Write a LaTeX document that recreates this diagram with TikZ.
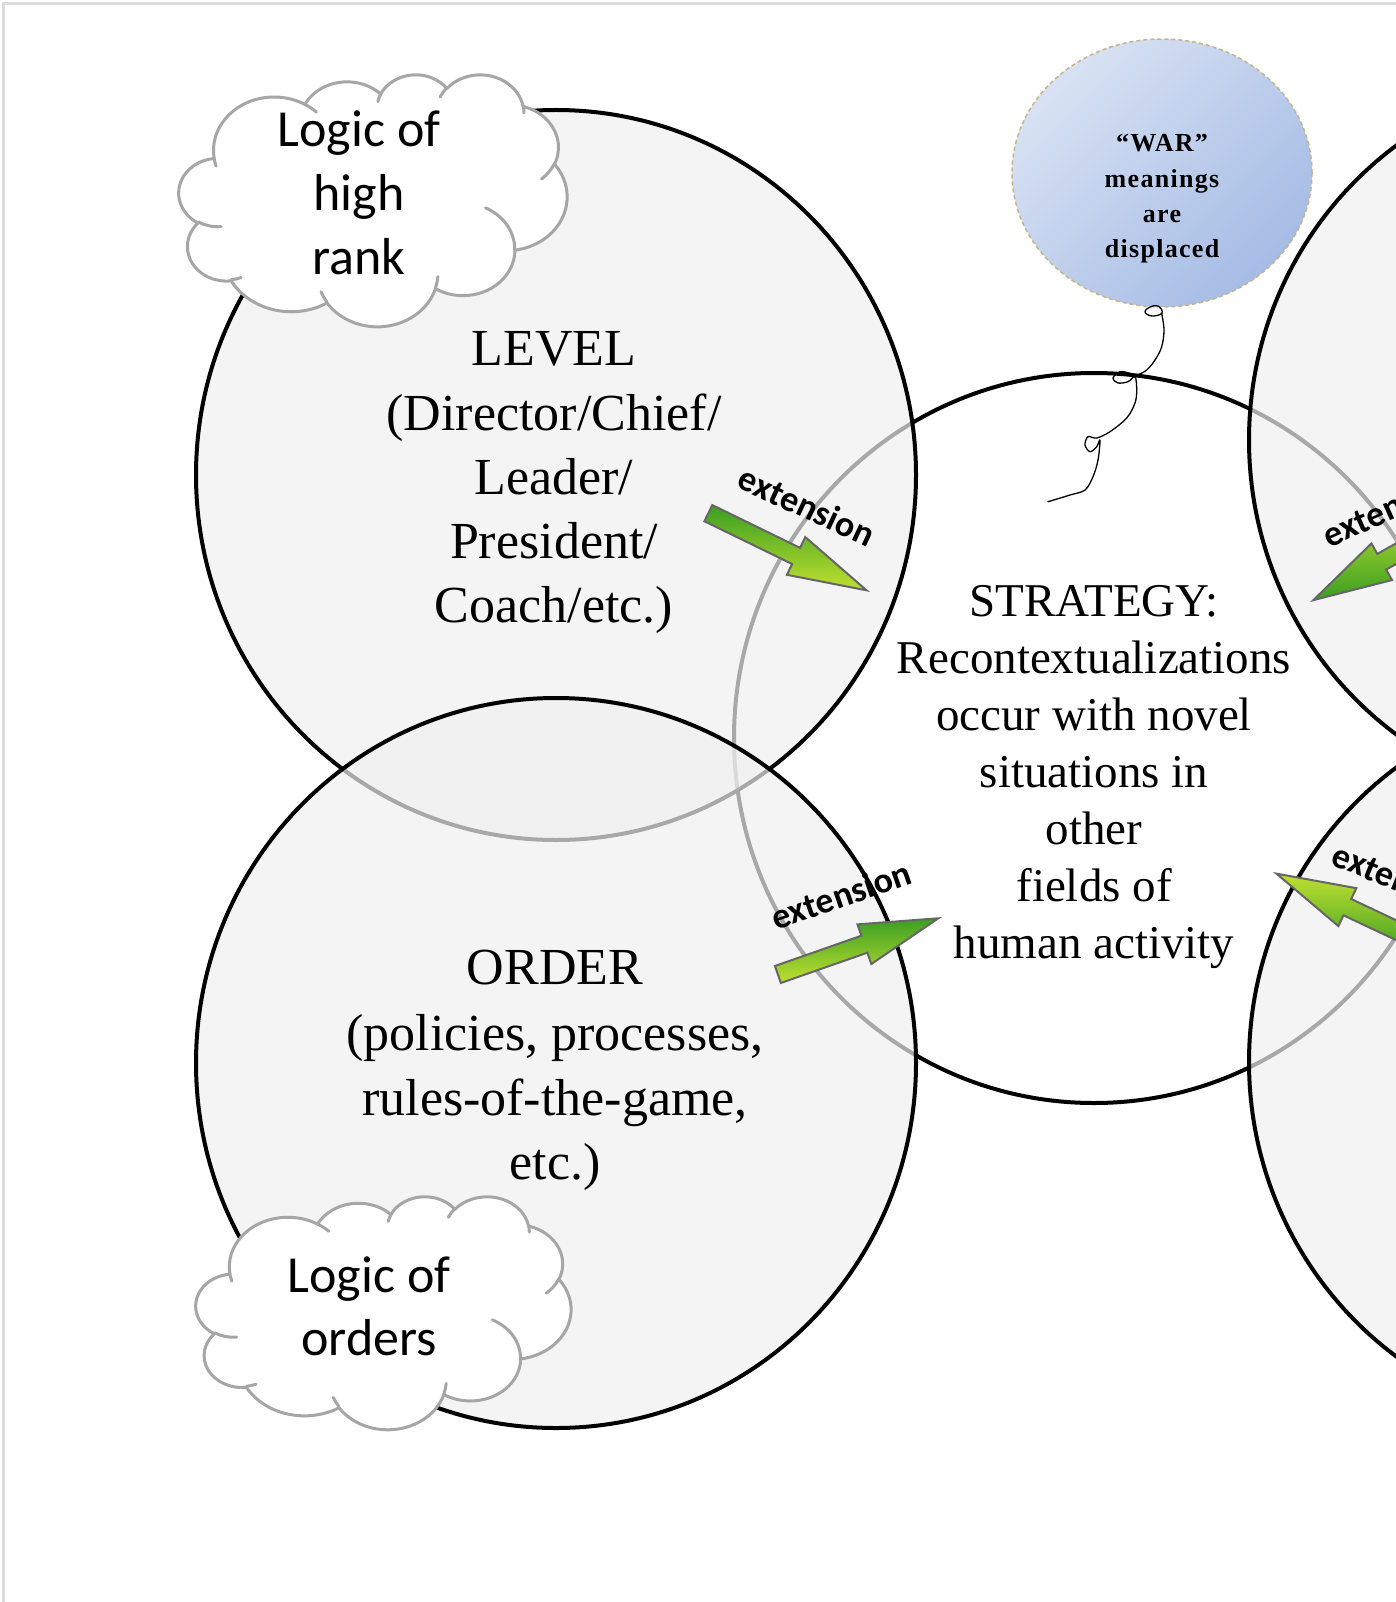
\documentclass[tikz,border=0pt]{standalone}
\usepackage{fontspec}
\setmainfont{Liberation Serif}
\newfontfamily\calib{Carlito}
\newfontfamily\balfont[LetterSpace=5]{Liberation Serif}
\usetikzlibrary{shapes.arrows,shapes.geometric}
\definecolor{cloudgray}{HTML}{A6A6A6}
\definecolor{circfill}{HTML}{F0F0F0}
\definecolor{ballight}{HTML}{D8E2F3}
\definecolor{baldark}{HTML}{A5BCE5}
\definecolor{balborder}{HTML}{C4B48A}
\definecolor{framegray}{HTML}{DCDCDC}
\definecolor{arrowdark}{HTML}{3A9E22}
\definecolor{arrowlight}{HTML}{BFE030}
% --- Office-style cloud outline (path in 0..4320 units) ---
\newcommand\cldsetup[4]{\def\cX{#1}\def\cY{#2}\pgfmathsetmacro\cSx{#3/4320}\pgfmathsetmacro\cSy{#4/4320}}
\newcommand\cldmove[2]{\pgfmathsetmacro\cldPx{\cX+#1*\cSx}\pgfmathsetmacro\cldPy{-(\cY+#2*\cSy)}\pgfpathmoveto{\pgfpoint{\cldPx pt}{\cldPy pt}}}
\newcommand\cldarc[4]{%
  \pgfmathsetmacro\cldA{#3}%
  \pgfmathsetmacro\cldB{#3+#4}%
  \pgfmathsetmacro\cldTa{atan2(#1*sin(\cldA),#2*cos(\cldA))}%
  \pgfmathsetmacro\cldTb{atan2(#1*sin(\cldB),#2*cos(\cldB))}%
  \pgfmathsetmacro\cldD{\cldTb-\cldTa}%
  \pgfmathsetmacro\cldD{(\cldD<0)*360+\cldD}%
  \pgfmathsetmacro\cldS{-1*(\cldTa)}%
  \pgfmathsetmacro\cldF{-1*(\cldTa+\cldD)}%
  \pgfmathsetmacro\cldRx{#1*\cSx}%
  \pgfmathsetmacro\cldRy{#2*\cSy}%
  \pgfpatharc{\cldS}{\cldF}{\cldRx pt and \cldRy pt}%
}
\newcommand\officecloud[4]{%
  \cldsetup{#1}{#2}{#3}{#4}%
  \begin{pgfscope}%
  \pgfsetlinewidth{3pt}\pgfsetstrokecolor{cloudgray}\pgfsetfillcolor{white}\pgfsetroundjoin\pgfsetroundcap
  \cldmove{390.0}{1437.0}%
  \cldarc{675.3}{919.0}{-190.4875}{123.7805}%
  \cldarc{533.3}{726.7}{-144.1024}{89.9452}%
  \cldarc{436.5}{594.5}{-145.8079}{99.7230}%
  \cldarc{485.7}{659.5}{-130.9861}{117.2417}%
  \cldarc{533.3}{727.3}{-78.7089}{109.0269}%
  \cldarc{677.5}{922.0}{-46.2673}{130.2690}%
  \cldarc{578.5}{786.7}{0.6250}{114.0333}%
  \cldarc{675.2}{921.5}{22.4516}{115.1726}%
  \cldarc{772.0}{1054.3}{66.2426}{75.7110}%
  \cldarc{436.0}{591.8}{-274.9421}{146.7356}%
  \cldarc{434.5}{594.5}{-246.8285}{152.5189}%
  \pgfpathclose
  \pgfusepath{fill,stroke}%
  \cldmove{469.3}{2617.7}\cldarc{434.5}{594.5}{86.7420}{26.4295}%
  \cldmove{692.8}{3489.9}\cldarc{436.0}{591.8}{73.6105}{11.4475}%
  \cldmove{1647.8}{3909.0}\cldarc{675.2}{921.5}{137.6242}{14.0811}%
  \cldmove{2882.7}{3475.1}\cldarc{675.2}{921.5}{6.4533}{15.9984}%
  \cldmove{3412.9}{2295.4}\cldarc{578.5}{786.7}{-70.2924}{70.9174}%
  \cldmove{4179.8}{1535.4}\cldarc{533.3}{727.3}{30.3180}{27.7515}%
  \cldmove{3832.4}{542.6}\cldarc{485.7}{659.5}{-13.7443}{14.8589}%
  \cldmove{2907.8}{395.2}\cldarc{485.7}{659.5}{-149.1815}{18.1954}%
  \cldmove{2214.1}{472.0}\cldarc{436.5}{594.5}{-163.4943}{17.6864}%
  \cldmove{1400.0}{519.2}\cldarc{675.3}{919.0}{-66.7070}{12.3194}%
  \cldmove{412.7}{1578.9}\cldarc{675.3}{919.0}{157.6544}{11.8582}%
  \pgfusepath{stroke}%
  \end{pgfscope}%
}
\begin{document}
\begin{tikzpicture}[x=1pt,y=-1pt,
  ringwhite/.style={ellipse,minimum width=720pt,minimum height=730pt,inner sep=0pt,draw=black,line width=4pt,fill=white},
  ringgray/.style={ellipse,minimum width=720pt,minimum height=730pt,inner sep=0pt,draw=black,line width=4pt,fill=circfill,fill opacity=0.7},
  bigtxt/.style={anchor=base,inner sep=0pt,font=\fontsize{52}{63}\selectfont},
  strtxt/.style={anchor=base,inner sep=0pt,font=\fontsize{47}{56}\selectfont},
  cldtxt/.style={anchor=base,inner sep=0pt,font=\calib\fontsize{52}{63}\selectfont},
  exttxt/.style={inner sep=0pt,font=\calib\bfseries\fontsize{36}{40}\selectfont},
  greenarrow/.style={single arrow,anchor=tip,inner sep=8pt,single arrow head extend=12pt,single arrow tip angle=30,minimum height=176pt,draw=black!60,line width=2pt,top color=arrowdark,bottom color=arrowlight},
  stringline/.style={line width=1.3pt,line cap=round,line join=round}
]
\useasboundingbox (0,0) rectangle (1396,1602);
\clip (0,0) rectangle (1396,1602);
\fill[white] (0,0) rectangle (1396,1602);
\draw[framegray,line width=3pt] (3,1602) -- (3,4) -- (1396,4);

% circles
\node[ringwhite] (strategy) at (1094,738) {};
\node[ringgray] (rtop) at (1609,440) {};
\node[ringgray] (rbot) at (1609,1062) {};
\node[ringgray] (level) at (556,475) {};
\node[ringgray] (order) at (556,1063) {};

% clouds
\officecloud{179}{74}{388}{252}
\officecloud{196}{1196}{375}{233}

% balloon
\node[ellipse,minimum width=300pt,minimum height=268pt,inner sep=0pt,draw=balborder,dash pattern=on 4pt off 3pt,line width=1.5pt,top color=ballight,bottom color=baldark,shading angle=45] (balloon) at (1162,173) {};
\node[font=\balfont\bfseries\fontsize{26}{35.3}\selectfont,align=center,inner sep=0pt] (wartxt) at (1162,199) {“WAR”\\meanings\\are\\displaced};
\draw[stringline] plot[smooth cycle,tension=0.7] coordinates {(1150,307) (1145,312) (1152,316) (1162,313) (1158,306)};
\draw[stringline] plot[smooth,tension=0.55] coordinates {(1161.7,313.3) (1164,330) (1161.7,346.7) (1155,360) (1146.7,370) (1136.7,375) (1130,373.3) (1120,371.7) (1113,378) (1118,383) (1128,381.7) (1135,376.7) (1136.7,390) (1135,403) (1126.7,418) (1110,431.7) (1096.7,438) (1088,436.7) (1085,445) (1090,451.7) (1096.7,446.7) (1100,440) (1098,460) (1093,476.7) (1085,490) (1070,495) (1048,501.7)};

% texts
\node[cldtxt] (c1a) at (359,147) {Logic of};
\node[cldtxt] (c1b) at (359,211) {high};
\node[cldtxt] (c1c) at (359,275) {rank};
\node[cldtxt] (c2a) at (369,1292) {Logic of};
\node[cldtxt] (c2b) at (369,1355) {orders};

\node[bigtxt] (lv1) at (554,365) {LEVEL};
\node[bigtxt] (lv2) at (554,430) {(Director/Chief/};
\node[bigtxt] (lv3) at (554,494) {Leader/};
\node[bigtxt] (lv4) at (554,558) {President/};
\node[bigtxt] (lv5) at (554,622) {Coach/etc.)};

\node[bigtxt] (or1) at (555,984) {ORDER};
\node[bigtxt] (or2) at (555,1050) {(policies, processes,};
\node[bigtxt] (or3) at (555,1115) {rules-of-the-game,};
\node[bigtxt] (or4) at (555,1179) {etc.)};

\node[strtxt] (st1) at (1094,616) {STRATEGY:};
\node[strtxt] (st2) at (1094,673) {Recontextualizations};
\node[strtxt] (st3) at (1094,730) {occur with novel};
\node[strtxt] (st4) at (1094,787) {situations in};
\node[strtxt] (st5) at (1094,844) {other};
\node[strtxt] (st6) at (1094,901) {fields of};
\node[strtxt] (st7) at (1094,958) {human activity};

% arrows and labels
\node[greenarrow,rotate=-26] (arrA) at (870,592) {};
\node[greenarrow,rotate=19.3,minimum height=170pt] (arrB) at (942,917) {};
\node[greenarrow,rotate=209.3,top color=arrowlight,bottom color=arrowdark] (arrC) at (1310,602) {};
\node[greenarrow,rotate=154.7,top color=arrowlight,bottom color=arrowdark] (arrD) at (1273,872) {};
\node[exttxt,rotate=-25] (extA) at (807,506) {extension};
\node[exttxt,rotate=19] (extB) at (841,895) {extension};
\node[exttxt,rotate=24] (extC) at (1391,507) {extension};
\node[exttxt,rotate=-22] (extD) at (1402,880) {extension};
\end{tikzpicture}
\end{document}
